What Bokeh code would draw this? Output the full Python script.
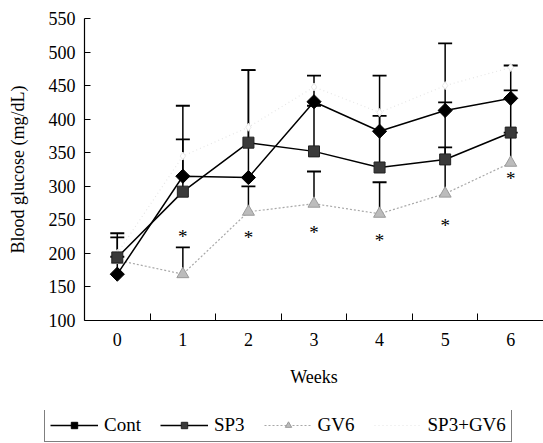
import math
from bokeh.plotting import figure
from bokeh.layouts import column
from bokeh.models import (FixedTicker, Legend, LegendItem, Whisker, TeeHead,
                          ColumnDataSource, Range1d)
from bokeh.core.properties import value
from bokeh.embed import file_html
from bokeh.resources import INLINE

weeks = [0, 1, 2, 3, 4, 5, 6]
cont = [169, 315, 313, 426, 382, 413, 431]
sp3 = [194, 292, 365, 352, 328, 340, 380]
gv6 = [190, 169, 262, 274, 259, 289, 335]
sp3_gv6 = [200, 345, 388, 448, 410, 450, 477]

cont_upper = [195, 420, 473, 465, 465, 513, 480]
sp3_upper = [224, 370, 473, 420, 405, 425, 443]
gv6_upper = [230, 209, 300, 322, 306, 358, 380]

star_weeks = [1, 2, 3, 4, 5, 6]
star_vals = [225, 224, 231, 219, 242, 311]

series_names = ["Cont", "SP3", "GV6", "SP3+GV6"]

FONT = "Liberation Serif"
FS = "18px"

p = figure(width=543, height=410, output_backend="svg", toolbar_location=None,
           x_range=Range1d(-0.5, 6.5), y_range=Range1d(100, 550),
           min_border_left=84, min_border_right=0, min_border_top=18,
           min_border_bottom=90)
p.outline_line_color = None
p.xgrid.visible = False
p.ygrid.visible = False
p.frame_align = False

# axes
p.xaxis.ticker = FixedTicker(ticks=weeks, minor_ticks=[0.5, 1.5, 2.5, 3.5, 4.5, 5.5, 6.5])
p.xaxis.major_tick_line_color = None
p.xaxis.minor_tick_line_color = "black"
p.xaxis.minor_tick_in = 7
p.xaxis.minor_tick_out = 0
p.xaxis.major_label_standoff = 6
p.xaxis.axis_label = "Weeks"
p.xaxis.axis_label_standoff = 18
p.yaxis.ticker = FixedTicker(ticks=list(range(100, 551, 50)))
p.yaxis.major_tick_in = 6
p.yaxis.major_tick_out = 0
p.yaxis.minor_tick_line_color = None
p.yaxis.major_label_standoff = 9
p.yaxis.axis_label = "Blood glucose (mg/dL)"
p.yaxis.axis_label_standoff = 18
for ax in (p.xaxis[0], p.yaxis[0]):
    ax.axis_line_color = "black"
    ax.axis_line_width = 1.2
    ax.major_label_text_font = FONT
    ax.major_label_text_font_size = FS
    ax.major_label_text_color = "black"
    ax.axis_label_text_font = FONT
    ax.axis_label_text_font_size = FS
    ax.axis_label_text_font_style = "normal"
    ax.axis_label_text_color = "black"

# error bars (upper only)
def add_err(vals, upper, color):
    src = ColumnDataSource(dict(x=weeks, lo=vals, hi=upper))
    w = Whisker(source=src, base="x", lower="lo", upper="hi",
                line_color=color, line_width=1.5,
                upper_head=TeeHead(size=14, line_color=color, line_width=1.8),
                lower_head=None)
    p.add_layout(w)

add_err(gv6, gv6_upper, "black")
add_err(sp3, sp3_upper, "black")
add_err(cont, cont_upper, "black")

# styles
S4 = dict(line_color="#e6e6e6", line_width=1.2, line_dash="1 3")
S3 = dict(line_color="#a8a8a8", line_width=1.2, line_dash="2 2")
S2 = dict(line_color="black", line_width=1.5)
S1 = dict(line_color="black", line_width=1.5)
M3 = dict(marker="triangle", size=12, fill_color="#bcbcbc", line_color="#9a9a9a", line_width=1)
M2 = dict(marker="square", size=11, fill_color="#3a3a3a", line_color="#222222", line_width=1)
M1 = dict(marker="square", angle=math.pi / 4, size=10, fill_color="black", line_color="black")

p.line(weeks, sp3_gv6, **S4)
p.scatter(weeks, sp3_gv6, marker="diamond", size=8, fill_color="white",
          line_color="#e8e8e8", line_width=1)
p.line(weeks, gv6, **S3)
p.scatter(weeks, gv6, **M3)
p.line(weeks, sp3, **S2)
p.scatter(weeks, sp3, **M2)
p.line(weeks, cont, **S1)
p.scatter(weeks, cont, **M1)

p.text(star_weeks, star_vals, text=["*"] * len(star_weeks),
       text_font=value(FONT), text_font_size="19px", text_color="black",
       text_align="center", text_baseline="middle")

# legend in its own strip below the chart (series drawn off-range, only legend shows)
leg = figure(width=543, height=33, output_backend="svg", toolbar_location=None,
             x_range=Range1d(100, 101), y_range=Range1d(0, 1),
             x_axis_location=None, y_axis_location=None,
             min_border=0, min_border_left=0, min_border_right=0,
             min_border_top=0, min_border_bottom=0)
leg.grid.visible = False
leg.outline_line_color = None
leg.frame_align = False
r1 = [leg.line(weeks, cont, **S1), leg.scatter(weeks, cont, **M1)]
r2 = [leg.line(weeks, sp3, **S2), leg.scatter(weeks, sp3, **M2)]
r3 = [leg.line(weeks, gv6, **S3), leg.scatter(weeks, gv6, **M3)]
r4 = [leg.line(weeks, sp3_gv6, **S4)]

legend = Legend(items=[
    LegendItem(label=series_names[0], renderers=r1),
    LegendItem(label=series_names[1], renderers=r2),
    LegendItem(label=series_names[2], renderers=r3),
    LegendItem(label=series_names[3], renderers=r4),
], orientation="horizontal", location=(44, 1),
    glyph_width=48, glyph_height=16, label_standoff=6, spacing=19,
    padding=5, margin=0,
    label_text_font=FONT, label_text_font_size="19px", label_text_color="black",
    border_line_color="black", border_line_width=1.2,
    background_fill_alpha=1.0)
leg.add_layout(legend, "center")

layout = column(p, leg, spacing=0)
open("out.html", "w").write(file_html(layout, INLINE))
